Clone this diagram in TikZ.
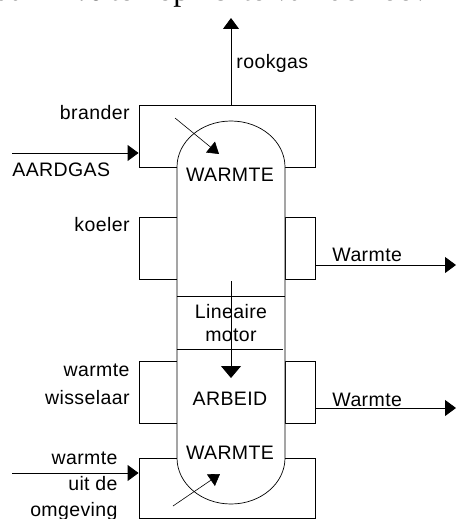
\documentclass[tikz,border=0pt]{standalone}
\usepackage{fontspec}
\setmainfont{Liberation Sans}[LetterSpace=2]
\newfontfamily\pagefont{Liberation Serif}
\usetikzlibrary{arrows.meta,positioning}

\begin{document}
\begin{tikzpicture}[
  x=1pt, y=-1pt,
  line width=0.9pt,
  font=\fontsize{19.5}{26}\selectfont,
  box/.style={rectangle, draw, fill=white, inner sep=0pt, minimum width=#1, minimum height=62pt},
  lbl/.style={inner sep=0pt, align=right},
  flow/.style={-{Triangle[length=11pt,width=16pt]}},
  hot/.style={-{Triangle[length=11pt,width=14pt]}, line width=0.6pt},
]
\useasboundingbox (0,0) rectangle (456,519);
\clip (0,0) rectangle (456,519);

% ---------- page text above the figure ----------
\node[anchor=base west, inner sep=0pt, font=\pagefont\fontsize{32}{32}\selectfont] (page) at (-4,1) {aar 14\% ten opzichte van de hoev};

% ---------- boxes round the capsule ----------
\node[box=176pt] (brb) at (227,136) {};
\node[box=38pt]  (kl)  at (158,248) {};
\node[box=30pt]  (kr)  at (300,248) {};
\node[box=38pt]  (wl)  at (158,392) {};
\node[box=30pt]  (wr)  at (300,392) {};
\node[box=176pt, minimum height=60pt] (omb) at (227,488) {};

% ---------- capsule ----------
\draw[fill=white, line width=0.7pt] (177,167) arc[start angle=180, end angle=360, x radius=54, y radius=46]
  -- (285,458) arc[start angle=0, end angle=180, x radius=54, y radius=46] -- cycle;
\node[minimum width=108pt, minimum height=52pt, inner sep=0pt, align=center,
      font=\fontsize{19.5}{23}\selectfont] (motor) at (231,323) {Lineaire\\motor};
\draw (motor.north west) -- (motor.north east);
\draw (motor.south west) -- ([xshift=-2pt]motor.south east);

% ---------- labels ----------
\node[lbl, anchor=west] (rookgas) at (236,63)  {rookgas};
\node[lbl, anchor=east] (brander) at (130,113) {brander};
\node[lbl, anchor=west] (gas)     at (12,170)  {AARDGAS};
\node[lbl]              (wtop)    at (230,175) {WARMTE};
\node[lbl, anchor=east] (koeler)  at (130,225) {koeler};
\node[lbl, anchor=west] (wuit1)   at (332,255) {Warmte};
\node[lbl, anchor=east, font=\fontsize{19.5}{28}\selectfont] (wissel) at (130,384) {warmte\\wisselaar};
\node[lbl]              (arbeid)  at (230,399) {ARBEID};
\node[lbl, anchor=west] (wuit2)   at (332,400) {Warmte};
\node[lbl]              (wbot)    at (230,453) {WARMTE};
\node[lbl, anchor=east] (omgev)   at (118,486) {warmte\\uit de\\omgeving};

% ---------- arrows ----------
\coordinate (rgtip)  at (231,18);
\coordinate (gasin)  at (12,153);
\coordinate (w1end)  at (456,265);
\coordinate (w2end)  at (456,408);
\coordinate (omgin)  at (12,473);
\coordinate (mtop)   at (231,281);
\coordinate (mtip)   at (231,378);
\coordinate (bstart) at (175,118);
\coordinate (btip)   at (219,154);
\coordinate (ostart) at (173,506);
\coordinate (otip)   at (220,474);
\draw[flow] (brb.north -| rgtip) -- (rgtip);
\draw[flow] (gasin) -- (brb.west |- gasin);
\draw[flow] (kr.east |- w1end) -- (w1end);
\draw[flow] (wr.east |- w2end) -- (w2end);
\draw[flow] (omgin) -- (omb.west |- omgin);
\draw[flow, -{Triangle[length=12pt,width=20pt]}] (mtop) -- (mtip);
\draw[hot] (bstart) -- (btip);
\draw[hot] (ostart) -- (otip);
\end{tikzpicture}
\end{document}
